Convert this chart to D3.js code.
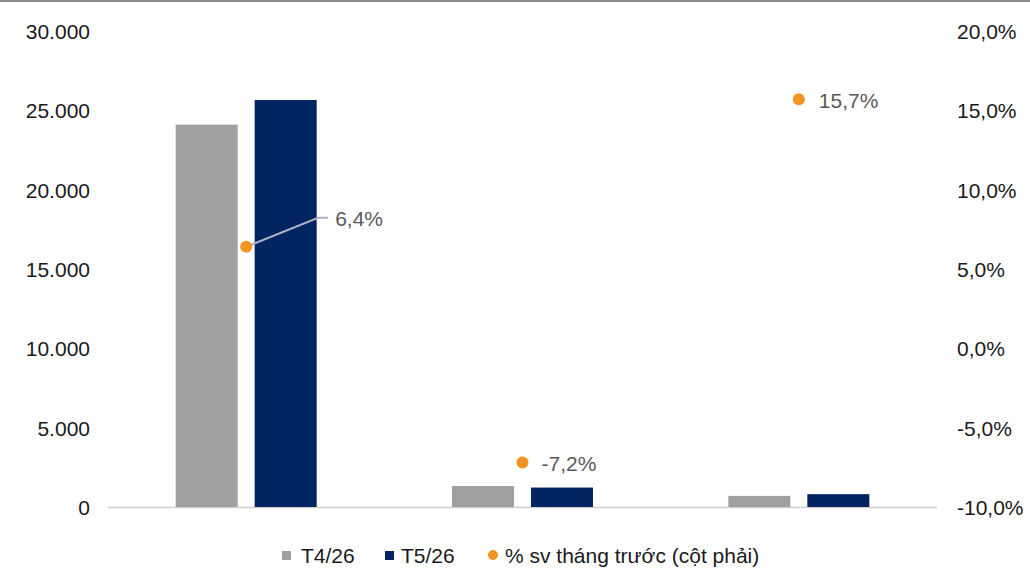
<!DOCTYPE html>
<html><head><meta charset="utf-8">
<script src="https://cdn.jsdelivr.net/npm/d3@7"></script>
<style>body{margin:0;background:#fff}svg{display:block}text{font-family:"Liberation Sans",Arial,sans-serif}</style>
</head><body><svg id="c" width="1030" height="569"></svg>
<script>
const categories = ["A", "B", "C"];
const seriesT4 = [24100, 1320, 700];
const seriesT5 = [25650, 1225, 810];
const pctChange = [6.4, -7.2, 15.7];
const leftTicks = [0, 5000, 10000, 15000, 20000, 25000, 30000];
const rightTicks = [-10, -5, 0, 5, 10, 15, 20];
const legendLabels = ["T4/26", "T5/26", "% sv tháng trước (cột phải)"];

const svg = d3.select("#c");
const W = 1030, H = 569, FS = 21;
const x0 = 108, x1 = 937, yTop = 31, yBot = 507;
const x = d3.scaleBand().domain(categories).range([x0, x1]);
const yL = d3.scaleLinear().domain([0, 30000]).range([yBot, yTop]);
const yR = d3.scaleLinear().domain([-10, 20]).range([yBot, yTop]);
const fmtL = d => d === 0 ? "0" : d3.format(",")(d).replace(/,/g, ".");
const fmtR = d => d.toFixed(1).replace(".", ",") + "%";
const fmtP = d => d.toFixed(1).replace(".", ",") + "%";

svg.append("line").attr("x1", 0).attr("x2", W).attr("y1", 1).attr("y2", 1).attr("stroke", "#8a8a8a").attr("stroke-width", 2);

const gL = svg.append("g").attr("transform", `translate(${x0},0)`)
  .call(d3.axisLeft(yL).tickValues(leftTicks).tickFormat(fmtL).tickSize(0).tickPadding(18));
gL.select(".domain").remove();
gL.selectAll("text").attr("font-size", FS).attr("fill", "#1a1a1a").attr("dy", "0.35em");
const gR = svg.append("g").attr("transform", `translate(${x1},0)`)
  .call(d3.axisRight(yR).tickValues(rightTicks).tickFormat(fmtR).tickSize(0).tickPadding(20));
gR.select(".domain").remove();
gR.selectAll("text").attr("font-size", FS).attr("fill", "#1a1a1a").attr("dy", "0.35em");

svg.append("line").attr("x1", x0).attr("x2", x1).attr("y1", yBot + 0.5).attr("y2", yBot + 0.5).attr("stroke", "#d0d0d0").attr("stroke-width", 1.5);

const bw = 62, gap = 17;
const cx = c => x(c) + x.bandwidth() / 2;
svg.selectAll("rect.t4").data(categories).join("rect")
  .attr("x", c => cx(c) - gap / 2 - bw).attr("width", bw)
  .attr("y", (c, i) => yL(seriesT4[i])).attr("height", (c, i) => yBot - yL(seriesT4[i]))
  .attr("fill", "#a0a0a0");
svg.selectAll("rect.t5").data(categories).join("rect")
  .attr("x", c => cx(c) + gap / 2).attr("width", bw)
  .attr("y", (c, i) => yL(seriesT5[i])).attr("height", (c, i) => yBot - yL(seriesT5[i]))
  .attr("fill", "#022561");

const p0 = [cx(categories[0]), yR(pctChange[0])];
svg.append("polyline")
  .attr("points", `${p0[0]},${p0[1]} ${p0[0] + 72},${p0[1] - 29} ${p0[0] + 82},${p0[1] - 29}`)
  .attr("fill", "none").attr("stroke", "#a8b4c6").attr("stroke-width", 2);

svg.selectAll("circle.p").data(categories).join("circle")
  .attr("cx", c => cx(c)).attr("cy", (c, i) => yR(pctChange[i])).attr("r", 6)
  .attr("fill", "#f39422");

const labelOff = [[89, -28], [19, 1], [20, 1]];
svg.selectAll("text.pl").data(categories).join("text")
  .attr("x", (c, i) => cx(c) + labelOff[i][0])
  .attr("y", (c, i) => yR(pctChange[i]) + labelOff[i][1])
  .attr("dy", "0.35em").attr("font-size", FS).attr("fill", "#595959")
  .text((c, i) => fmtP(pctChange[i]));

const lg = svg.append("g");
const ly = 556;
lg.append("rect").attr("x", 282).attr("y", ly - 5).attr("width", 9).attr("height", 9).attr("fill", "#a0a0a0");
lg.append("text").attr("x", 301).attr("y", ly).attr("dy", "0.35em").attr("font-size", FS).attr("fill", "#1a1a1a").text(legendLabels[0]);
lg.append("rect").attr("x", 385).attr("y", ly - 5).attr("width", 9).attr("height", 9).attr("fill", "#022561");
lg.append("text").attr("x", 401).attr("y", ly).attr("dy", "0.35em").attr("font-size", FS).attr("fill", "#1a1a1a").text(legendLabels[1]);
lg.append("circle").attr("cx", 493).attr("cy", ly - 1).attr("r", 5).attr("fill", "#f39422");
lg.append("text").attr("x", 505).attr("y", ly).attr("dy", "0.35em").attr("font-size", FS).attr("fill", "#1a1a1a").text(legendLabels[2]);
</script></body></html>
